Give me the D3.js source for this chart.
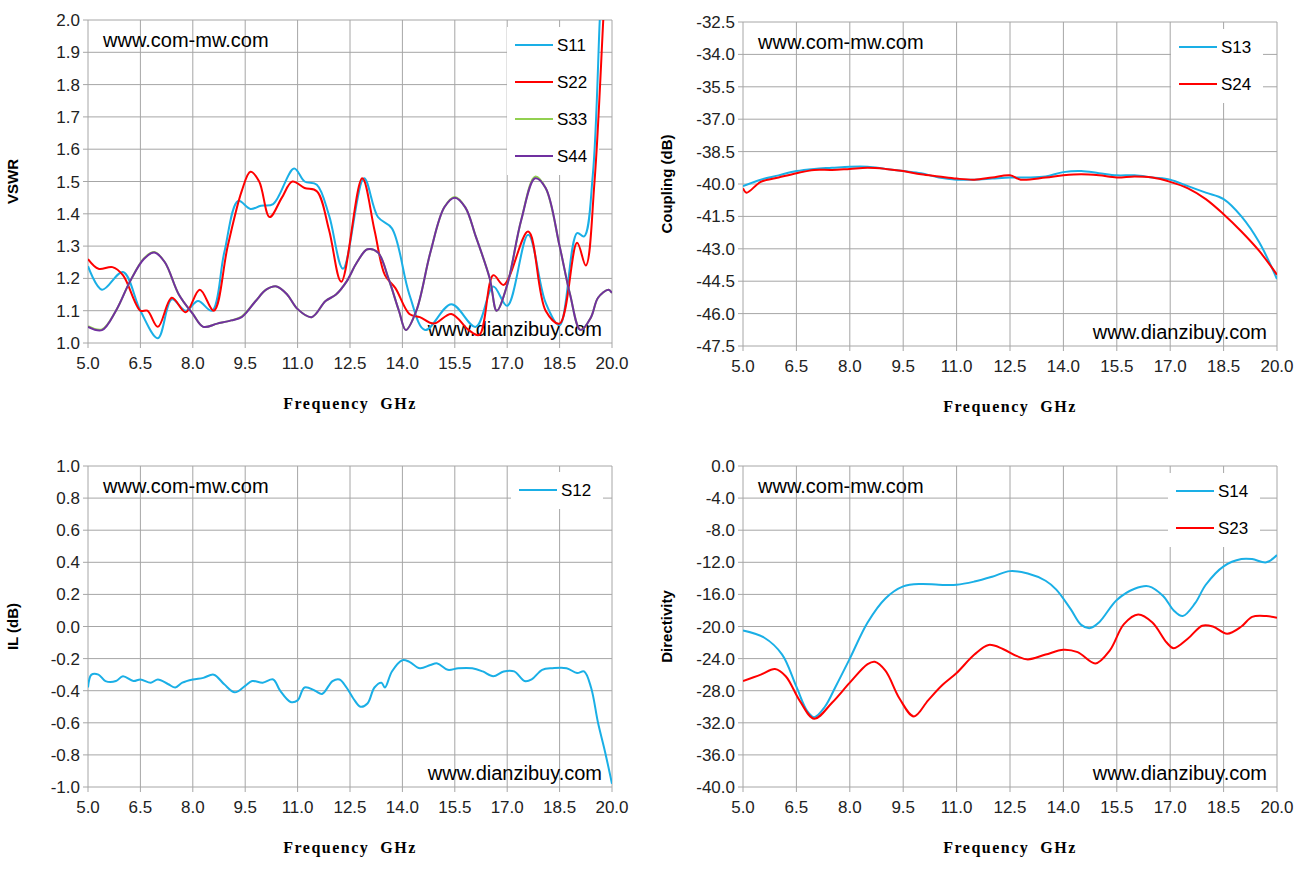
<!DOCTYPE html>
<html>
<head>
<meta charset="utf-8">
<script src="https://cdn.jsdelivr.net/npm/d3@7"></script>
<style>
body{margin:0;background:#fff;}
text{font-family:"Liberation Sans",Arial,sans-serif;}
</style>
</head>
<body>
<svg id="chart" width="1308" height="874"></svg>
<script>
// data (frequency GHz, value)
var xTicks=[5.0,6.5,8.0,9.5,11.0,12.5,14.0,15.5,17.0,18.5,20.0];

var S11=[[5.0,1.238],[5.4,1.165],[6.0,1.22],[6.5,1.10],[7.0,1.015],[7.4,1.135],[7.8,1.10],[8.15,1.13],[8.55,1.10],[8.9,1.28],[9.3,1.44],[9.65,1.415],[9.95,1.425],[10.3,1.43],[10.9,1.54],[11.2,1.50],[11.55,1.49],[11.9,1.395],[12.3,1.23],[12.9,1.51],[13.3,1.39],[13.7,1.355],[14.2,1.15],[14.65,1.04],[15.4,1.12],[16.1,1.05],[16.6,1.175],[17.0,1.115],[17.6,1.335],[18.1,1.125],[18.5,1.055],[19.0,1.34],[19.2,1.33],[19.45,1.52],[19.65,2.0],[19.7,2.1]];
var S22=[[5.0,1.26],[5.3,1.23],[5.7,1.235],[6.0,1.21],[6.5,1.10],[6.7,1.10],[7.0,1.05],[7.4,1.14],[7.8,1.095],[8.2,1.165],[8.6,1.10],[9.0,1.30],[9.4,1.47],[9.65,1.53],[9.9,1.50],[10.2,1.39],[10.55,1.45],[10.85,1.50],[11.2,1.48],[11.55,1.47],[11.9,1.35],[12.25,1.19],[12.85,1.51],[13.2,1.35],[13.5,1.21],[13.8,1.17],[14.2,1.09],[14.5,1.08],[14.9,1.06],[15.4,1.09],[15.9,1.04],[16.2,1.025],[16.6,1.21],[16.9,1.18],[17.6,1.345],[18.1,1.10],[18.5,1.06],[19.0,1.31],[19.25,1.24],[19.5,1.5],[19.75,2.0],[19.8,2.1]];
var S33=[[5.0,1.052],[5.4,1.042],[5.8,1.10],[6.2,1.19],[6.6,1.262],[6.9,1.282],[7.2,1.25],[7.6,1.15],[8.0,1.09],[8.3,1.05],[8.7,1.06],[9.1,1.07],[9.4,1.082],[9.8,1.13],[10.1,1.165],[10.4,1.175],[10.7,1.15],[11.0,1.105],[11.4,1.08],[11.8,1.13],[12.1,1.15],[12.4,1.19],[12.7,1.25],[13.0,1.29],[13.3,1.28],[13.6,1.2],[13.9,1.10],[14.1,1.04],[14.4,1.10],[14.8,1.28],[15.2,1.42],[15.5,1.452],[15.8,1.42],[16.1,1.33],[16.5,1.20],[16.7,1.10],[17.0,1.18],[17.4,1.38],[17.8,1.515],[18.1,1.48],[18.5,1.30],[18.8,1.15],[19.1,1.04],[19.4,1.08],[19.6,1.14],[19.9,1.165],[20.0,1.155]];
var S44=[[5.0,1.05],[5.4,1.04],[5.8,1.10],[6.2,1.19],[6.6,1.26],[6.9,1.28],[7.2,1.25],[7.6,1.15],[8.0,1.09],[8.3,1.05],[8.7,1.06],[9.1,1.07],[9.4,1.08],[9.8,1.13],[10.1,1.165],[10.4,1.175],[10.7,1.15],[11.0,1.105],[11.4,1.08],[11.8,1.13],[12.1,1.15],[12.4,1.19],[12.7,1.25],[13.0,1.29],[13.3,1.28],[13.6,1.2],[13.9,1.10],[14.1,1.04],[14.4,1.10],[14.8,1.28],[15.2,1.42],[15.5,1.45],[15.8,1.42],[16.1,1.33],[16.5,1.20],[16.7,1.10],[17.0,1.18],[17.4,1.38],[17.8,1.51],[18.1,1.48],[18.5,1.30],[18.8,1.15],[19.1,1.04],[19.4,1.08],[19.6,1.14],[19.9,1.165],[20.0,1.155]];

var S13=[[5.0,-40.1],[5.5,-39.8],[6.0,-39.6],[6.5,-39.4],[7.0,-39.3],[7.5,-39.25],[8.0,-39.2],[8.5,-39.2],[9.0,-39.3],[9.5,-39.4],[10.0,-39.5],[10.5,-39.7],[11.0,-39.8],[11.5,-39.8],[12.0,-39.75],[12.5,-39.7],[13.0,-39.7],[13.5,-39.65],[14.0,-39.45],[14.5,-39.4],[15.0,-39.5],[15.5,-39.6],[16.0,-39.6],[16.5,-39.7],[17.0,-39.8],[17.5,-40.1],[18.0,-40.4],[18.5,-40.7],[19.0,-41.5],[19.5,-42.7],[20.0,-44.4]];
var S24=[[5.0,-40.2],[5.1,-40.4],[5.5,-39.9],[6.0,-39.7],[6.5,-39.5],[7.0,-39.35],[7.5,-39.35],[8.0,-39.3],[8.5,-39.25],[9.0,-39.3],[9.5,-39.4],[10.0,-39.55],[10.5,-39.65],[11.0,-39.75],[11.5,-39.8],[12.0,-39.7],[12.5,-39.6],[12.8,-39.8],[13.5,-39.7],[14.0,-39.6],[14.5,-39.55],[15.0,-39.6],[15.5,-39.7],[16.0,-39.65],[16.5,-39.7],[17.0,-39.9],[17.5,-40.2],[18.0,-40.7],[18.5,-41.4],[19.0,-42.2],[19.5,-43.1],[20.0,-44.2]];

var S12=[[5.0,-0.38],[5.1,-0.30],[5.3,-0.30],[5.5,-0.34],[5.8,-0.34],[6.0,-0.31],[6.3,-0.34],[6.5,-0.33],[6.8,-0.35],[7.0,-0.33],[7.3,-0.36],[7.5,-0.38],[7.7,-0.35],[8.0,-0.33],[8.3,-0.32],[8.6,-0.30],[8.9,-0.36],[9.2,-0.41],[9.5,-0.37],[9.7,-0.34],[10.0,-0.35],[10.3,-0.33],[10.5,-0.40],[10.8,-0.47],[11.0,-0.46],[11.2,-0.38],[11.5,-0.40],[11.7,-0.42],[12.0,-0.34],[12.2,-0.33],[12.4,-0.38],[12.6,-0.45],[12.8,-0.50],[13.0,-0.48],[13.2,-0.38],[13.4,-0.35],[13.5,-0.38],[13.7,-0.28],[14.0,-0.21],[14.2,-0.22],[14.5,-0.26],[14.8,-0.24],[15.0,-0.23],[15.3,-0.27],[15.6,-0.26],[16.0,-0.26],[16.3,-0.28],[16.6,-0.31],[16.9,-0.28],[17.2,-0.28],[17.5,-0.34],[17.7,-0.33],[18.0,-0.27],[18.3,-0.26],[18.7,-0.26],[19.0,-0.29],[19.2,-0.28],[19.4,-0.38],[19.6,-0.60],[19.8,-0.78],[20.0,-0.98]];

var S14=[[5.0,-20.5],[5.6,-21.4],[6.1,-23.5],[6.5,-27.5],[6.8,-30.5],[7.0,-31.3],[7.3,-30],[7.6,-27.5],[8.0,-24],[8.5,-19.5],[9.0,-16.5],[9.5,-15],[10.0,-14.7],[10.5,-14.8],[11.0,-14.8],[11.5,-14.4],[12.0,-13.8],[12.5,-13.1],[13.0,-13.4],[13.5,-14.3],[13.8,-15.4],[14.2,-17.8],[14.5,-19.8],[14.75,-20.2],[15.0,-19.5],[15.5,-16.7],[16.0,-15.3],[16.4,-15.0],[16.8,-16.2],[17.1,-18.0],[17.35,-18.7],[17.7,-17.1],[18.0,-14.8],[18.5,-12.5],[19.0,-11.6],[19.3,-11.6],[19.7,-12.0],[20.0,-11.1]];
var S23=[[5.0,-26.8],[5.5,-26.0],[5.9,-25.3],[6.2,-26.2],[6.6,-29.3],[7.0,-31.5],[7.5,-29.5],[8.0,-27.0],[8.5,-24.7],[8.7,-24.4],[9.0,-25.5],[9.4,-29.0],[9.8,-31.2],[10.2,-29.2],[10.6,-27.3],[11.0,-25.8],[11.5,-23.5],[11.9,-22.3],[12.3,-22.8],[12.7,-23.7],[13.0,-24.1],[13.5,-23.5],[14.0,-22.9],[14.4,-23.2],[14.9,-24.6],[15.3,-23.0],[15.7,-19.7],[16.1,-18.5],[16.5,-19.5],[16.9,-22.0],[17.1,-22.7],[17.5,-21.5],[17.9,-19.9],[18.2,-20.0],[18.6,-20.9],[19.0,-20.0],[19.3,-18.8],[19.7,-18.7],[20.0,-18.9]];

var vswrTicks=d3.range(1.0,2.0001,0.1);
var coupTicks=d3.range(-32.5,-47.5001,-1.5);
var ilTicks=d3.range(1.0,-1.0001,-0.2);
var dirTicks=d3.range(0,-40.0001,-4);

var BLUE="#1aafe6",RED="#ff0000",GREEN="#92d050",PURPLE="#7030a0";
var svg=d3.select("#chart");

function panel(p){
  var x=d3.scaleLinear().domain([5,20]).range([p.l,p.r]);
  var y=d3.scaleLinear().domain(p.yd).range([p.b,p.t]);
  var g=svg.append("g");
  // grid
  g.selectAll(".vg").data(xTicks).enter().append("line")
    .attr("x1",d=>x(d)).attr("x2",d=>x(d)).attr("y1",p.t).attr("y2",p.b+5)
    .attr("stroke","#a6a6a6").attr("stroke-width",1);
  g.selectAll(".hg").data(p.ticks).enter().append("line")
    .attr("x1",p.l-5).attr("x2",p.r).attr("y1",d=>y(d)).attr("y2",d=>y(d))
    .attr("stroke","#a6a6a6").attr("stroke-width",1);
  g.selectAll(".xt").data(xTicks).enter().append("text")
    .attr("x",d=>x(d)).attr("y",p.b+26).attr("text-anchor","middle")
    .style("font-size","17px").attr("fill","#222").text(d=>d.toFixed(1));
  g.selectAll(".yt").data(p.ticks).enter().append("text")
    .attr("x",p.l-8).attr("y",d=>y(d)+6).attr("text-anchor","end")
    .style("font-size","17px").attr("fill","#222").text(d=>d.toFixed(1));
  g.append("text").attr("x",(p.l+p.r)/2).attr("y",p.b+66).attr("text-anchor","middle")
    .style("font-family","'Liberation Serif','DejaVu Serif',serif").style("font-weight","bold")
    .style("font-size","16px").style("letter-spacing","1.5px").attr("xml:space","preserve").text("Frequency  GHz");
  g.append("text").attr("transform","translate("+p.yl+","+(p.t+p.b)/2+") rotate(-90)")
    .attr("text-anchor","middle").style("font-weight","bold").style("font-size","15px").text(p.title);
  // watermarks
  g.append("text").attr("x",p.l+15).attr("y",p.t+27).style("font-size","20px").text("www.com-mw.com");
  // legend box
  var lg=g.append("g");
  lg.append("rect").attr("x",p.lx-8).attr("y",p.ly-18).attr("width",92).attr("height",p.series.length*37)
    .attr("fill","#fff");
  var clipId="clip"+p.l+"_"+p.t;
  g.append("clipPath").attr("id",clipId).append("rect")
    .attr("x",p.l).attr("y",p.t).attr("width",p.r-p.l).attr("height",p.b-p.t);
  var line=d3.line().x(d=>x(d[0])).y(d=>y(d[1])).curve(d3.curveCatmullRom);
  g.append("text").attr("x",p.r-10).attr("y",p.b-7).attr("text-anchor","end")
    .style("font-size","20px").text("www.dianzibuy.com");
  p.series.forEach(function(s,i){
    g.append("path").datum(s.data).attr("d",line).attr("fill","none")
      .attr("stroke",s.color).attr("stroke-width",2).attr("clip-path","url(#"+clipId+")");
    lg.append("line").attr("x1",p.lx).attr("x2",p.lx+38).attr("y1",p.ly+i*37).attr("y2",p.ly+i*37)
      .attr("stroke",s.color).attr("stroke-width",2);
    lg.append("text").attr("x",p.lx+42).attr("y",p.ly+i*37+6).style("font-size","17px").text(s.name);
  });
}

panel({l:88,r:612,t:20,b:343,yd:[1.0,2.0],ticks:vswrTicks,title:"VSWR",yl:18,lx:515,ly:45,
  series:[{name:"S11",data:S11,color:BLUE},{name:"S22",data:S22,color:RED},{name:"S33",data:S33,color:GREEN},{name:"S44",data:S44,color:PURPLE}]});
panel({l:743,r:1277,t:22,b:346,yd:[-47.5,-32.5],ticks:coupTicks,title:"Coupling (dB)",yl:672,lx:1179,ly:47,
  series:[{name:"S13",data:S13,color:BLUE},{name:"S24",data:S24,color:RED}]});
panel({l:88,r:612,t:466,b:787,yd:[-1.0,1.0],ticks:ilTicks,title:"IL (dB)",yl:18,lx:519,ly:490,
  series:[{name:"S12",data:S12,color:BLUE}]});
panel({l:743,r:1277,t:466,b:787,yd:[-40,0],ticks:dirTicks,title:"Directivity",yl:672,lx:1176,ly:491,
  series:[{name:"S14",data:S14,color:BLUE},{name:"S23",data:S23,color:RED}]});
</script>
</body>
</html>
